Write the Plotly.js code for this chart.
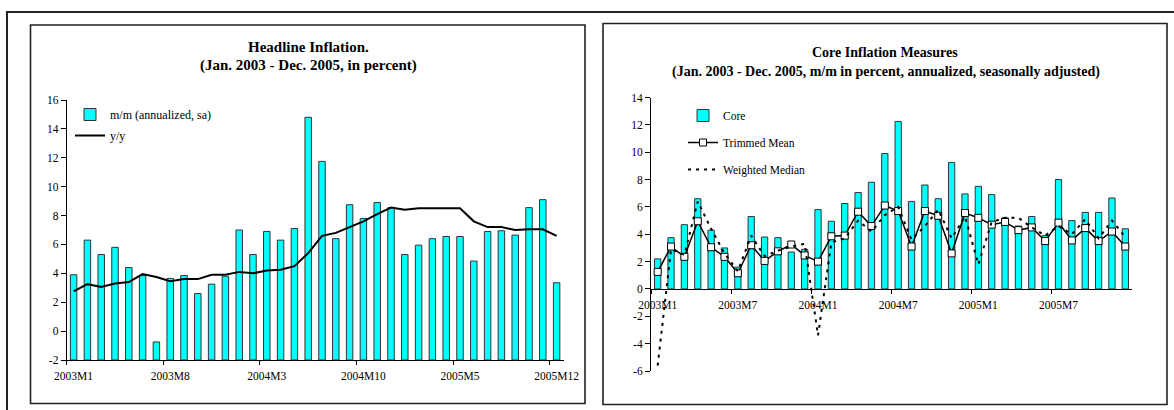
<!DOCTYPE html>
<html>
<head>
<meta charset="utf-8">
<script src="https://cdn.plot.ly/plotly-3.0.1.min.js"></script>
<style>
  html, body { margin: 0; padding: 0; background: #fff; }
  #chart { width: 1174px; height: 410px; }
</style>
</head>
<body>
<div id="chart"></div>
<script>
// Monthly categories, Jan 2003 - Dec 2005
const months = [
  '2003M1','2003M2','2003M3','2003M4','2003M5','2003M6','2003M7','2003M8','2003M9','2003M10','2003M11','2003M12',
  '2004M1','2004M2','2004M3','2004M4','2004M5','2004M6','2004M7','2004M8','2004M9','2004M10','2004M11','2004M12',
  '2005M1','2005M2','2005M3','2005M4','2005M5','2005M6','2005M7','2005M8','2005M9','2005M10','2005M11','2005M12'
];

// Headline inflation, m/m annualized, seasonally adjusted (percent)
const headlineMoM = [
  3.9, 6.3, 5.3, 5.8, 4.4, 3.85, -0.75, 3.65, 3.85, 2.6, 3.25, 3.8,
  7.0, 5.3, 6.9, 6.3, 7.1, 14.8, 11.75, 6.4, 8.75, 7.8, 8.9, 8.55,
  5.3, 5.95, 6.4, 6.55, 6.55, 4.85, 6.9, 6.95, 6.65, 8.55, 9.1, 3.35
];

// Headline inflation, y/y (percent)
const headlineYoY = [
  2.75, 3.25, 3.05, 3.3, 3.4, 3.95, 3.75, 3.45, 3.6, 3.6, 3.9, 3.9,
  4.1, 4.0, 4.2, 4.25, 4.5, 5.4, 6.6, 6.8, 7.2, 7.6, 8.1, 8.55,
  8.4, 8.5, 8.5, 8.5, 8.5, 7.6, 7.2, 7.2, 7.0, 7.05, 7.05, 6.6
];

// Core inflation measures, m/m annualized, seasonally adjusted (percent)
const coreMoM = [
  2.2, 3.75, 4.7, 6.6, 4.3, 3.0, 1.6, 5.3, 3.8, 3.75, 2.7, 2.9,
  5.8, 4.95, 6.25, 7.05, 7.8, 9.9, 12.25, 6.4, 7.6, 6.6, 9.25, 6.95,
  7.5, 6.9, 5.2, 4.6, 5.3, 3.9, 8.0, 5.0, 5.6, 5.6, 6.65, 4.4
];

const trimmedMean = [
  1.25, 3.1, 2.35, 4.95, 3.05, 2.35, 1.15, 3.2, 2.05, 2.75, 3.25, 2.45,
  2.0, 3.85, 3.9, 5.65, 4.6, 6.1, 5.7, 3.1, 5.7, 5.35, 2.6, 5.55,
  5.2, 4.7, 4.9, 4.3, 4.5, 3.5, 4.85, 3.55, 4.45, 3.5, 4.2, 3.1
];

const weightedMedian = [
  -5.6, 2.9, 2.5, 6.4, 4.4, 2.6, 1.3, 3.9, 2.4, 2.8, 3.1, 3.3,
  -3.4, 3.4, 3.7, 5.0, 4.2, 5.4, 6.0, 3.6, 4.6, 5.8, 3.7, 5.3,
  1.8, 4.9, 5.2, 5.2, 4.5, 3.9, 4.6, 4.0, 5.1, 3.7, 5.0, 3.8
];

// Axis ranges
const headlineRange = [-2, 16];
const coreRange = [-6, 14];

// ---- figure geometry (pixels -> paper fractions) ----
const W = 1174, H = 410;
const fx = x => x / W;
const fy = y => 1 - y / H;
const serif = '"Liberation Serif", "Times New Roman", Times, serif';
const CYAN = '#00FFFF';
const INK = '#000000';

const leftDomY = [fy(360), fy(100)];
const rightDomY = [fy(371), fy(97.5)];
// x axis of the core panel sits on the zero line
const coreZeroPos = rightDomY[0] +
  (0 - coreRange[0]) / (coreRange[1] - coreRange[0]) * (rightDomY[1] - rightDomY[0]);

// value ticks every 2, labelled with a plain hyphen for negatives
function valueTicks(range) {
  const vals = [];
  for (let v = range[0]; v <= range[1]; v += 2) vals.push(v);
  return { tickvals: vals, ticktext: vals.map(v => String(v)) };
}

const tickFont = { family: serif, size: 11.5, color: INK };

const yAxisCommon = {
  showline: true, linecolor: INK, linewidth: 1,
  ticks: 'outside', ticklen: 5, tickcolor: INK, tickwidth: 1,
  showgrid: false, zeroline: false, tickmode: 'array',
  tickfont: tickFont, fixedrange: true
};
const xAxisCommon = {
  type: 'category', range: [-0.5, 35.5],
  showline: true, linecolor: INK, linewidth: 1,
  ticks: 'outside', ticklen: 4, tickcolor: INK, tickwidth: 1,
  tickson: 'boundaries', tickmode: 'linear', tick0: 0,
  ticklabelstandoff: 5,
  showgrid: false, zeroline: false, tickangle: 0,
  tickfont: tickFont, fixedrange: true
};

const traces = [
  {
    type: 'bar', x: months,
    // bars rise from the bottom of the value axis
    y: headlineMoM.map(v => v - headlineRange[0]), base: headlineRange[0],
    customdata: headlineMoM, hovertemplate: '%{x}: %{customdata}<extra></extra>',
    name: 'm/m (annualized, sa)', xaxis: 'x', yaxis: 'y',
    marker: { color: CYAN, line: { color: '#333', width: 1 } },
    legend: 'legend', legendgroup: 'hm'
  },
  {
    type: 'scatter', mode: 'lines', x: months, y: headlineYoY,
    name: 'y/y', xaxis: 'x', yaxis: 'y',
    line: { color: INK, width: 2 },
    legend: 'legend', legendgroup: 'hy'
  },
  {
    type: 'bar', x: months, y: coreMoM,
    name: 'Core', xaxis: 'x2', yaxis: 'y2',
    marker: { color: CYAN, line: { color: '#333', width: 1 } },
    legend: 'legend2', legendgroup: 'cc'
  },
  {
    type: 'scatter', mode: 'lines+markers', x: months, y: trimmedMean,
    name: 'Trimmed Mean', xaxis: 'x2', yaxis: 'y2',
    line: { color: INK, width: 1.5 },
    marker: { symbol: 'square', size: 7, color: '#fff', line: { color: INK, width: 1 } },
    legend: 'legend2', legendgroup: 'ct'
  },
  {
    type: 'scatter', mode: 'lines', x: months, y: weightedMedian,
    name: 'Weighted Median', xaxis: 'x2', yaxis: 'y2',
    line: { color: INK, width: 2, dash: '3px,5px' },
    legend: 'legend2', legendgroup: 'cw'
  }
];

const frameLine = { color: '#222', width: 1.6 };

const layout = {
  width: W, height: H,
  margin: { l: 0, r: 0, t: 0, b: 0 },
  paper_bgcolor: '#fff', plot_bgcolor: 'rgba(0,0,0,0)',
  font: { family: serif, color: INK },
  bargap: 0.53,
  showlegend: true,
  xaxis: Object.assign({}, xAxisCommon, {
    domain: [fx(66.7), fx(563.5)], anchor: 'y', dtick: 7
  }),
  yaxis: Object.assign({}, yAxisCommon, valueTicks(headlineRange), {
    domain: leftDomY, anchor: 'x', range: headlineRange
  }),
  xaxis2: Object.assign({}, xAxisCommon, {
    domain: [fx(651), fx(1132)], anchor: 'free', position: coreZeroPos, dtick: 6
  }),
  yaxis2: Object.assign({}, yAxisCommon, valueTicks(coreRange), {
    domain: rightDomY, anchor: 'x2', range: coreRange
  }),
  legend: {
    x: fx(70), y: fy(100), xanchor: 'left', yanchor: 'top',
    bgcolor: 'rgba(0,0,0,0)', borderwidth: 0,
    font: { family: serif, size: 12, color: INK },
    tracegroupgap: 2, itemwidth: 30
  },
  legend2: {
    x: fx(683), y: fy(101), xanchor: 'left', yanchor: 'top',
    bgcolor: 'rgba(0,0,0,0)', borderwidth: 0,
    font: { family: serif, size: 11.5, color: INK },
    tracegroupgap: 8, itemwidth: 30
  },
  shapes: [
    { type: 'rect', xref: 'paper', yref: 'paper', layer: 'above',
      x0: fx(7), x1: fx(1190), y0: fy(12), y1: fy(430),
      line: { color: '#222', width: 2 } },
    { type: 'rect', xref: 'paper', yref: 'paper', layer: 'above',
      x0: fx(30.5), x1: fx(585), y0: fy(25), y1: fy(403.5), line: frameLine },
    { type: 'rect', xref: 'paper', yref: 'paper', layer: 'above',
      x0: fx(603), x1: fx(1167), y0: fy(23.5), y1: fy(404.5), line: frameLine }
  ],
  annotations: [
    { text: 'Headline Inflation.', xref: 'paper', yref: 'paper',
      x: fx(308), y: fy(47), xanchor: 'center', yanchor: 'middle', showarrow: false,
      font: { family: serif, size: 15, weight: 700, color: INK } },
    { text: '(Jan. 2003 - Dec. 2005, in percent)', xref: 'paper', yref: 'paper',
      x: fx(308), y: fy(65), xanchor: 'center', yanchor: 'middle', showarrow: false,
      font: { family: serif, size: 15, weight: 700, color: INK } },
    { text: 'Core Inflation Measures', xref: 'paper', yref: 'paper',
      x: fx(885.5), y: fy(52), xanchor: 'center', yanchor: 'middle', showarrow: false,
      font: { family: serif, size: 14, weight: 700, color: INK } },
    { text: '(Jan. 2003 - Dec. 2005, m/m in percent, annualized, seasonally adjusted)',
      xref: 'paper', yref: 'paper',
      x: fx(886), y: fy(72), xanchor: 'center', yanchor: 'middle', showarrow: false,
      font: { family: serif, size: 14, weight: 700, color: INK } }
  ]
};

Plotly.newPlot('chart', traces, layout, { displayModeBar: false, staticPlot: true });
</script>
</body>
</html>
